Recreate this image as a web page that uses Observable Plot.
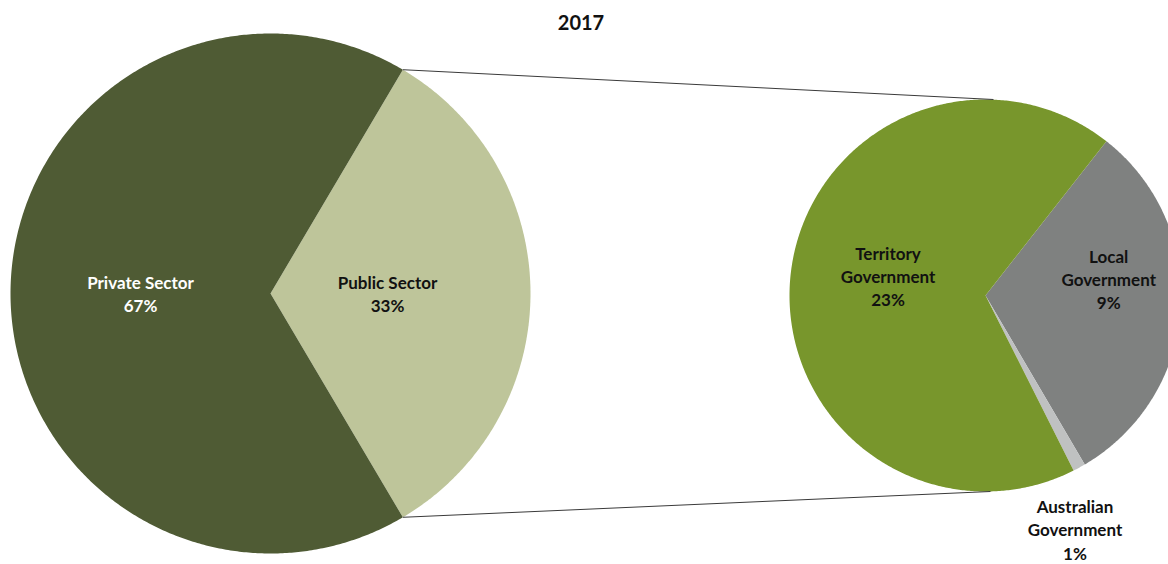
<!DOCTYPE html>
<html>
<head>
<meta charset="utf-8">
<script src="https://cdn.jsdelivr.net/npm/d3@7"></script>
<script src="https://cdn.jsdelivr.net/npm/@observablehq/plot@0.6"></script>
<style>
  html, body { margin: 0; padding: 0; background: #fff; }
  #wrap { position: relative; width: 1168px; height: 564px; }
  #title { position: absolute; left: 0; top: 12px; width: 1162px; z-index: 2;
    text-align: center; font: bold 20px/20px Lato, "Open Sans", sans-serif; color: #111; }
  #chart svg { display: block; }
</style>
</head>
<body>
<div id="wrap">
<div id="title">2017</div>
<div id="chart"></div>
</div>
<script>
// ---- data ----
const sectorNames = ["Public Sector", "Private Sector"];
const sectorValues = [33, 67];
const sectorLabels = ["Public Sector\n33%", "Private Sector\n67%"];
const sectorColors = ["#BEC59A", "#4F5B34"];

const publicNames = ["Local Government", "Australian Government", "Territory Government"];
const publicValues = [10.2, 0.34, 22.4];
const publicLabels = ["Local\nGovernment\n9%", "Australian\nGovernment\n1%", "Territory\nGovernment\n23%"];
const publicColors = ["#7F8180", "#BFC1C1", "#78962C"];

// ---- layout ----
const W = 1168, H = 564;
const mainPie = {cx: 270, cy: 293, r: 260, start: 30.6};
const subPie = {cx: 985, cy: 295, r: 196, start: 38.1};
const deg = Math.PI / 180;

// label placement: radial factor along mid-angle plus nudge
const sectorLabelPos = [{k: 0.45, dx: 0, dy: 0, fill: "#111"}, {k: 0.5, dx: 0, dy: 0, fill: "#fff"}];
const publicLabelPos = [{k: 0.63, dx: 0, dy: -25, fill: "#111"}, {k: 1.2, dx: -23, dy: 27, fill: "#111"}, {k: 0.5, dx: 0, dy: -10, fill: "#111"}];

function slices(pie, names, values, labels, pos) {
  const arcs = d3.pie().sort(null).startAngle(pie.start * deg).endAngle(pie.start * deg + 2 * Math.PI)(values);
  const pts = [], labs = [];
  arcs.forEach((a, i) => {
    const name = names[i];
    pts.push({name, x: pie.cx, y: pie.cy});
    const n = Math.max(4, Math.ceil((a.endAngle - a.startAngle) / (0.5 * deg)));
    for (let j = 0; j <= n; j++) {
      const t = a.startAngle + (a.endAngle - a.startAngle) * j / n;
      pts.push({name, x: pie.cx + pie.r * Math.sin(t), y: pie.cy - pie.r * Math.cos(t)});
    }
    pts.push({name, x: pie.cx, y: pie.cy});
    const m = (a.startAngle + a.endAngle) / 2, p = pos[i];
    labs.push({name, text: labels[i], fill: p.fill,
      x: pie.cx + p.k * pie.r * Math.sin(m) + p.dx,
      y: pie.cy - p.k * pie.r * Math.cos(m) + p.dy});
  });
  return {arcs, pts, labs};
}

const main = slices(mainPie, sectorNames, sectorValues, sectorLabels, sectorLabelPos);
const sub = slices(subPie, publicNames, publicValues, publicLabels, publicLabelPos);

// connector lines: edges of the Public Sector wedge to top/bottom of second pie
const pubArc = main.arcs[0];
const connectors = [
  {x1: mainPie.cx + mainPie.r * Math.sin(pubArc.startAngle), y1: mainPie.cy - mainPie.r * Math.cos(pubArc.startAngle),
   x2: subPie.cx + 8, y2: subPie.cy - subPie.r},
  {x1: mainPie.cx + mainPie.r * Math.sin(pubArc.endAngle), y1: mainPie.cy - mainPie.r * Math.cos(pubArc.endAngle),
   x2: subPie.cx + 5, y2: subPie.cy + subPie.r}
];

const allNames = sectorNames.concat(publicNames);
const allColors = sectorColors.concat(publicColors);

const chart = Plot.plot({
  width: W, height: H, margin: 0,
  style: {background: "#fff", overflow: "hidden"},
  x: {type: "linear", domain: [0, W], range: [0, W], axis: null},
  y: {type: "linear", domain: [0, H], range: [0, H], axis: null},
  color: {domain: allNames, range: allColors},
  marks: [
    Plot.line(main.pts.concat(sub.pts), {x: "x", y: "y", z: "name", fill: "name", stroke: "none", curve: "linear"}),
    Plot.link(connectors, {x1: "x1", y1: "y1", x2: "x2", y2: "y2", stroke: "#3a3a3a", strokeWidth: 1}),
    Plot.text(main.labs.concat(sub.labs), {x: "x", y: "y", text: "text", fill: d => d.fill,
      fontSize: 17, fontWeight: "bold", fontFamily: "Lato, 'Open Sans', sans-serif",
      lineHeight: 1.36, lineAnchor: "middle", textAnchor: "middle"})
  ]
});
document.getElementById("chart").appendChild(chart);
</script>
</body>
</html>
